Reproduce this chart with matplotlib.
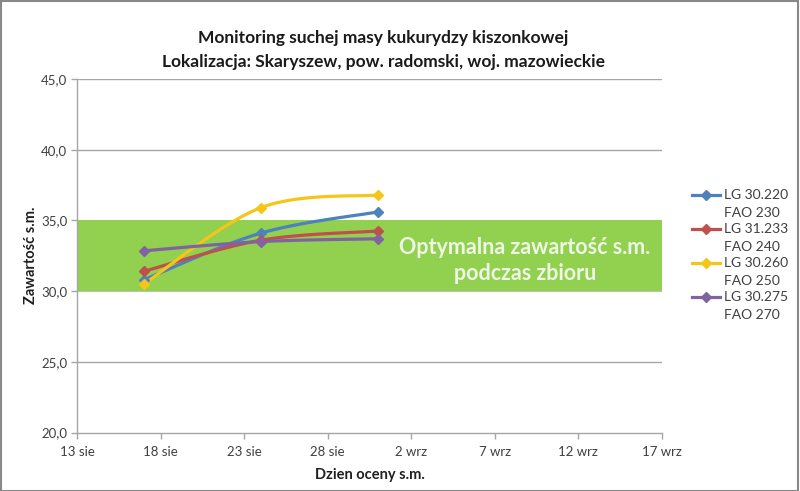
import datetime as dt
import numpy as np
import matplotlib
matplotlib.use("Agg")
import matplotlib.pyplot as plt
import matplotlib.dates as mdates
from matplotlib.lines import Line2D
from matplotlib.patches import Rectangle

plt.rcParams['font.family'] = ['Lato', 'DejaVu Sans']

# ---- data ----
dates = ["2014-08-17", "2014-08-24", "2014-08-31"]
series_names = ["LG 30.220\nFAO 230", "LG 31.233\nFAO 240",
                "LG 30.260\nFAO 250", "LG 30.275\nFAO 270"]
lg_30220 = [30.8, 34.1, 35.6]
lg_31233 = [31.4, 33.6, 34.25]
lg_30260 = [30.5, 35.9, 36.8]
lg_30275 = [32.85, 33.5, 33.7]
series_values = [lg_30220, lg_31233, lg_30260, lg_30275]
colors = ["#4F81BD", "#C0504D", "#F5C518", "#8064A2"]

x_tick_dates = ["2014-08-13", "2014-08-18", "2014-08-23", "2014-08-28",
                "2014-09-02", "2014-09-07", "2014-09-12", "2014-09-17"]
x_tick_labels = ["13 sie", "18 sie", "23 sie", "28 sie",
                 "2 wrz", "7 wrz", "12 wrz", "17 wrz"]
y_ticks = [20, 25, 30, 35, 40, 45]
band_low, band_high = 30.0, 35.0

title = "Monitoring suchej masy kukurydzy kiszonkowej\nLokalizacja: Skaryszew, pow. radomski, woj. mazowieckie"
band_text = "Optymalna zawartość s.m.\npodczas zbioru"
x_label = "Dzien oceny s.m."
y_label = "Zawartość s.m."

# ---- figure ----
W, H = 800, 491
fig = plt.figure(figsize=(8.0, 4.91), dpi=100)
ax = fig.add_axes([77/W, 1-432.5/H, (662-77)/W, (432.5-79)/H])

xd = [mdates.date2num(dt.datetime.strptime(d, "%Y-%m-%d")) for d in dates]
xt = [mdates.date2num(dt.datetime.strptime(d, "%Y-%m-%d")) for d in x_tick_dates]

ax.set_xlim(xt[0], xt[-1])
ax.set_ylim(y_ticks[0], y_ticks[-1])

# green band
ax.axhspan(band_low - 0.08, band_low, color="#B5C9A0", zorder=1, lw=0)
ax.axhspan(band_low, band_high, color="#92D050", zorder=1, lw=0)
ax.text(mdates.date2num(dt.datetime(2014, 9, 9)) - 0.2, (band_low + band_high) / 2 - 0.35,
        band_text, ha="center", va="center", fontsize=15.5, fontweight="bold",
        color="#EEF7E4", linespacing=1.3, zorder=2)

# grid
for yv in y_ticks[1:]:
    if band_low <= yv <= band_high:
        continue
    ax.axhline(yv, color="#A6A6A6", lw=1.0, zorder=0)

fig.canvas.draw()
trans = ax.transData
inv = trans.inverted()


def smooth(xs, ys, n=40):
    pts = trans.transform(np.column_stack([xs, ys]))
    P = np.vstack([pts[0], pts, pts[-1]])
    out = []
    for i in range(1, len(P) - 2):
        p0, p1, p2, p3 = P[i-1], P[i], P[i+1], P[i+2]
        c1 = p1 + (p2 - p0) / 6.0
        c2 = p2 - (p3 - p1) / 6.0
        t = np.linspace(0, 1, n)[:, None]
        seg = ((1-t)**3)*p1 + 3*((1-t)**2)*t*c1 + 3*(1-t)*(t**2)*c2 + (t**3)*p2
        out.append(seg if i == 1 else seg[1:])
    out = np.vstack(out)
    return inv.transform(out)


for name, vals, c in zip(series_names, series_values, colors):
    curve = smooth(xd, vals)
    ax.plot(curve[:, 0], curve[:, 1], color=c, lw=2.3, zorder=3,
            solid_capstyle="round")
    ax.plot(xd, vals, linestyle="none", marker="D", markersize=5.5,
            color=c, zorder=4)

ax.set_xticks(xt)
ax.set_xticklabels(x_tick_labels)
ax.set_yticks(y_ticks)
ax.set_yticklabels([f"{v:.1f}".replace(".", ",") for v in y_ticks])

for s in ["top", "right"]:
    ax.spines[s].set_visible(False)
for s in ["left", "bottom"]:
    ax.spines[s].set_color("#A6A6A6")
    ax.spines[s].set_linewidth(1.0)
    ax.spines[s].set_zorder(5)
ax.tick_params(axis="both", direction="out", length=4, width=1,
               color="#A6A6A6", labelsize=9.5, labelcolor="#404040")
ax.tick_params(axis="x", pad=6)
ax.tick_params(axis="y", pad=3)

ax.set_xlabel(x_label, fontsize=10.5, fontweight="bold", color="#202020", labelpad=7)
ax.set_ylabel(y_label, fontsize=10.5, fontweight="bold", color="#202020", labelpad=2)

fig.text(383/W, 1-50/H, title, ha="center", va="center", fontsize=12.5,
         fontweight="bold", color="#1A1A1A", linespacing=1.6)

# legend (handle aligned with first label line, as in the reference)
for i, (name, c) in enumerate(zip(series_names, colors)):
    y1 = 195 + 34 * i
    line1, line2 = name.split("\n")
    fig.add_artist(Line2D([692/W, 720/W], [1-y1/H, 1-y1/H], color=c, lw=2.3,
                          transform=fig.transFigure))
    fig.add_artist(Line2D([706/W], [1-y1/H], color=c, marker="D", markersize=5.5,
                          linestyle="none", transform=fig.transFigure))
    fig.text(724/W, 1-y1/H, line1, ha="left", va="center", fontsize=10,
             color="#404040")
    fig.text(724/W, 1-(y1+18)/H, line2, ha="left", va="center", fontsize=10,
             color="#404040")

# outer border
fig.patches.append(Rectangle((0.001, 0.001), 0.997, 0.997, transform=fig.transFigure,
                             fill=False, edgecolor="#888888", lw=1.5))

fig.savefig("out.png", dpi=100)
